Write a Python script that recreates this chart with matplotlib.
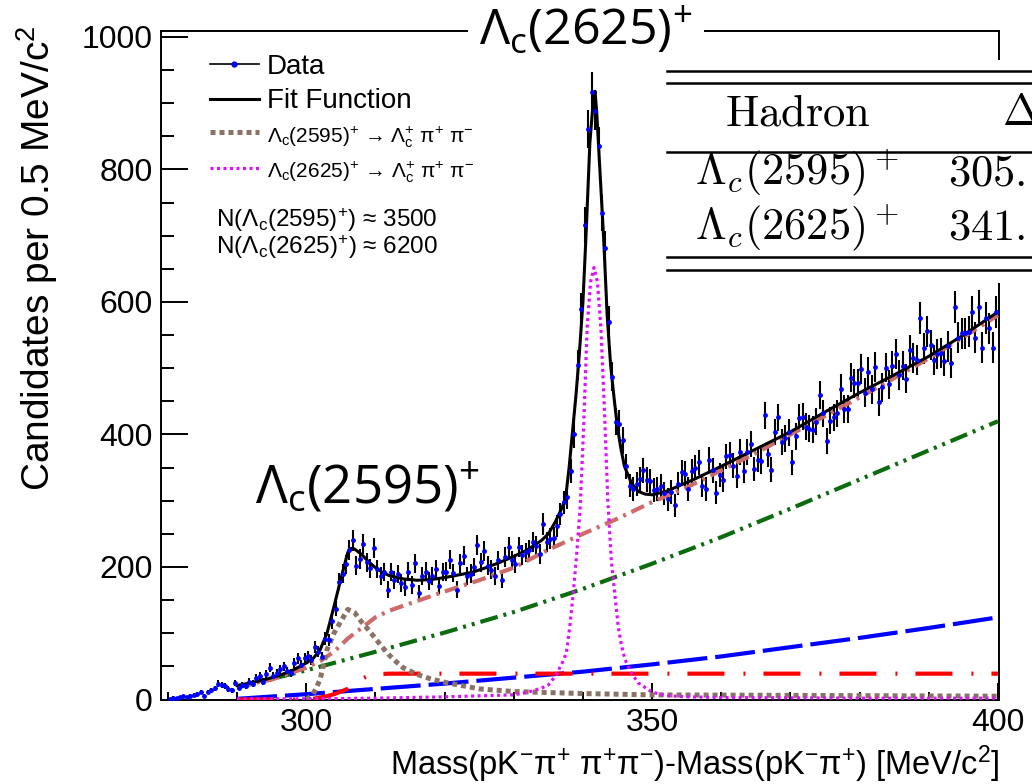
import numpy as np
import matplotlib
matplotlib.use("Agg")
import matplotlib.pyplot as plt
from matplotlib.lines import Line2D
from matplotlib.patches import Rectangle

plt.rcParams['font.family'] = ['Liberation Sans', 'DejaVu Sans']
plt.rcParams['mathtext.fontset'] = 'custom'
plt.rcParams['mathtext.rm'] = 'Liberation Sans'
plt.rcParams['mathtext.it'] = 'Liberation Sans:italic'
plt.rcParams['mathtext.bf'] = 'Liberation Sans:bold'
plt.rcParams['lines.scale_dashes'] = False

W, H, DPI = 1032, 784, 100
PT = 72 / DPI  # points per pixel

# candidates per 0.5 MeV bin, 280 - 400 MeV/c2, one row per 10 MeV
counts_280 = [1, 3, 2, 4, 5, 4, 6, 7, 9, 11, 6, 11, 14, 17, 24, 22, 21, 16, 14, 25]
counts_290 = [18, 22, 20, 27, 24, 33, 36, 27, 38, 48, 35, 40, 46, 50, 43, 40, 55, 62, 52, 62]
counts_300 = [65, 60, 79, 72, 64, 92, 90, 118, 137, 178, 190, 204, 225, 240, 202, 212, 235, 207, 198, 229]
counts_310 = [197, 186, 192, 166, 192, 180, 189, 176, 170, 193, 173, 206, 160, 186, 193, 179, 186, 197, 172, 192]
counts_320 = [193, 211, 191, 166, 206, 217, 186, 190, 200, 233, 207, 224, 202, 196, 186, 210, 181, 215, 230, 210]
counts_330 = [205, 230, 218, 222, 226, 238, 232, 220, 265, 238, 243, 244, 262, 280, 298, 305, 345, 400, 505, 590]
counts_340 = [716, 861, 917, 889, 835, 734, 681, 570, 487, 419, 416, 391, 352, 323, 318, 325, 333, 346, 332, 330]
counts_350 = [316, 318, 322, 311, 302, 313, 293, 326, 343, 341, 318, 345, 350, 358, 323, 318, 362, 346, 312, 339]
counts_360 = [332, 367, 369, 353, 338, 374, 345, 374, 385, 348, 362, 360, 429, 370, 347, 404, 426, 389, 394, 403]
counts_370 = [358, 397, 425, 427, 412, 409, 407, 419, 460, 432, 390, 421, 426, 432, 469, 439, 439, 486, 477, 477]
counts_380 = [499, 463, 494, 468, 502, 449, 471, 501, 476, 504, 522, 490, 504, 484, 527, 515, 513, 576, 530, 556]
counts_390 = [535, 513, 522, 523, 511, 533, 508, 592, 546, 553, 553, 555, 585, 546, 593, 531, 576, 560, 531, 585]
bin_lo, bin_w = 280.0, 0.5

# fit function and its components
fit_x = [290, 292, 294, 296, 298, 300, 301, 302, 303, 304, 305, 306, 306.5, 307, 308, 309, 310, 311, 312,
         314, 316, 318, 320, 322, 324, 326, 328, 330, 332, 334, 335, 336, 337, 337.5, 338, 338.5, 339,
         339.5, 340, 340.5, 341, 341.5, 341.75, 342, 342.5, 343, 343.5, 344, 344.5, 345, 345.5, 346, 347,
         348, 349, 350, 352, 354, 356, 358, 360, 365, 370, 375, 380, 385, 390, 395, 400]
fit_y = [21, 25, 30, 36, 44, 55, 62, 75, 100, 140, 182, 222, 228, 227, 219, 208, 199, 192, 187,
         182, 180, 181, 184, 188, 192, 199, 207, 216, 226, 240, 250, 268, 290, 305, 350, 405, 460,
         525, 600, 713, 840, 905, 918, 885, 790, 695, 580, 505, 455, 410, 378, 352, 327,
         314, 310, 309, 314, 323, 332, 342, 352, 378, 404, 434, 463, 490, 518, 550, 585]

bkg_x = [290, 295, 300, 302, 304, 306, 308, 310, 312, 315, 320, 325, 330, 335, 340, 345, 350, 355,
         360, 365, 370, 375, 380, 385, 390, 395, 400]
bkg_y = [20, 30, 48, 58, 72, 92, 108, 124, 134, 145, 163, 180, 199, 226, 250, 273, 298, 320,
         346, 372, 400, 428, 456, 485, 515, 547, 580]

comp_x = [290, 300, 310, 320, 330, 340, 350, 360, 370, 380, 390, 400]
green_y = [18, 44, 72, 101, 132, 167, 205, 245, 288, 332, 376, 420]
blue_y = [1, 8, 16, 24, 33, 42, 53, 65, 79, 93, 108, 124]

red_x = [290, 300, 301, 302, 303, 304, 305, 306, 307, 308, 309, 310, 312, 315, 400]
red_y = [0, 0, 1, 3, 5, 8, 12, 16, 24, 31, 36, 38, 39, 39, 39]

lc2595_x = [300, 301, 302, 303, 304, 305, 306, 307, 308, 309, 310, 311, 312, 313, 314, 316, 318,
            320, 325, 330, 340, 350, 375, 400]
lc2595_y = [0, 8, 30, 75, 100, 118, 136, 131, 117, 105, 92, 79, 67, 57, 48, 38, 31,
            26, 16, 12, 9, 7, 6, 5]

lc2625_x = [290, 300, 310, 320, 330, 332, 334, 335, 336, 337, 337.6, 338.1, 338.6, 339.1, 339.6,
            340.1, 340.6, 341.1, 341.6, 342.1, 342.6, 343.1, 343.6, 344.1, 344.6, 345.1, 345.6,
            346.1, 347, 348, 350, 352, 355, 360, 380, 400]
lc2625_y = [1, 1, 2, 4, 7, 11, 17, 22, 35, 55, 70, 110, 160, 220, 290,
            410, 560, 630, 652, 630, 560, 440, 300, 210, 160, 110, 80,
            60, 40, 25, 11, 6, 4, 3, 2, 2]


def fx(px):
    return px / W


def fy(py):
    return 1 - py / H


def dash(*px):
    return (0, tuple(p * PT for p in px))


counts = np.array(counts_280 + counts_290 + counts_300 + counts_310 + counts_320 + counts_330
                  + counts_340 + counts_350 + counts_360 + counts_370 + counts_380 + counts_390, float)
centers = bin_lo + bin_w * (np.arange(len(counts)) + 0.5)

fig = plt.figure(figsize=(W / DPI, H / DPI), dpi=DPI)
ax = fig.add_axes([fx(161), fy(699.5), (999 - 161) / W, (699.5 - 31) / H])

# data
ax.errorbar(centers, counts, yerr=np.sqrt(counts), fmt='none', ecolor='black', elinewidth=1.5, zorder=2)
ax.plot(centers, counts, 'o', color='#0000ff', ms=3.5, mew=0, zorder=6)

# components
brown = '#8b7264'
magenta = '#dd11ff'
ax.plot(comp_x, blue_y, color='#0000ff', lw=3.0, ls=dash(40, 8), zorder=3)
ax.plot(red_x, red_y, color='#ff0000', lw=3.0, ls=dash(37, 19, 2, 18), zorder=3)
ax.plot(comp_x, green_y, color='#0c6b0c', lw=3.0, ls=dash(18, 6, 3, 6, 3, 6), zorder=3)
ax.plot(bkg_x, bkg_y, color='#cd6b6b', lw=3.0, ls=dash(14, 6, 3, 6), zorder=3)
ax.plot(lc2595_x, lc2595_y, color=brown, lw=3.6, ls=dash(5, 4), zorder=3)
ax.plot(lc2625_x, lc2625_y, color=magenta, lw=2.3, ls=dash(3, 3.5), zorder=3)
ax.plot(fit_x, fit_y, color='black', lw=2.2, zorder=4)

ax.set_xlim(279.0, 400.15)
ax.set_ylim(0, 1009)
ax.set_xticks([300, 350, 400])
ax.set_xticks(np.arange(280, 401, 10), minor=True)
ax.set_yticks(np.arange(0, 1001, 200))
ax.set_yticks(np.arange(0, 1001, 50), minor=True)
ax.tick_params(axis='both', which='both', direction='in', width=1.4, labelsize=23,
               top=False, right=False)
ax.tick_params(axis='x', which='major', length=12.5, pad=6)
ax.tick_params(axis='x', which='minor', length=6)
ax.tick_params(axis='y', which='major', length=19.5, pad=6)
ax.tick_params(axis='y', which='minor', length=9.4)
for s in ax.spines.values():
    s.set_linewidth(1.4)

# legend
handles = [
    Line2D([], [], color='black', lw=1.2, marker='o', mfc='#0000ff', mec='#0000ff', ms=3.5),
    Line2D([], [], color='black', lw=2.2),
    Line2D([], [], color=brown, lw=3.6, ls=dash(5, 4)),
    Line2D([], [], color=magenta, lw=2.3, ls=dash(3, 3.5)),
]
labels = [
    'Data',
    'Fit Function',
    'Λ$_\\mathregular{c}$(2595)$^\\mathregular{+}$ → Λ$_\\mathregular{c}^\\mathregular{+}$ π$^\\mathregular{+}$ π$^\\mathregular{-}$',
    'Λ$_\\mathregular{c}$(2625)$^\\mathregular{+}$ → Λ$_\\mathregular{c}^\\mathregular{+}$ π$^\\mathregular{+}$ π$^\\mathregular{-}$',
]
leg = ax.legend(handles, labels, loc='upper left', bbox_to_anchor=((210 - 161) / 838, 1 - (54 - 31) / 668.5),
                frameon=False, fontsize=20, handlelength=1.75, handletextpad=0.3, labelspacing=0.3,
                borderpad=0, borderaxespad=0)
for t in leg.get_texts()[2:]:
    t.set_fontsize(15)

ax.text((216 - 161) / 838, 1 - (220 - 31) / 668.5,
        'N(Λ$_\\mathregular{c}$(2595)$^\\mathregular{+}$) ≈ 3500', transform=ax.transAxes,
        fontsize=17.5, ha='left', va='center')
ax.text((216 - 161) / 838, 1 - (247 - 31) / 668.5,
        'N(Λ$_\\mathregular{c}$(2625)$^\\mathregular{+}$) ≈ 6200', transform=ax.transAxes,
        fontsize=17.5, ha='left', va='center')

# axis titles
fig.text(fx(37), fy(25), 'Candidates per 0.5 MeV/c$^\\mathregular{2}$', rotation=90,
         ha='center', va='top', fontsize=28)
fig.text(fx(1000), fy(764),
         'Mass(pK$^\\mathregular{-}$π$^\\mathregular{+}$ π$^\\mathregular{+}$π$^\\mathregular{-}$)'
         '-Mass(pK$^\\mathregular{-}$π$^\\mathregular{+}$) [MeV/c$^\\mathregular{2}$]',
         ha='right', va='center', fontsize=23.5)

# peak labels
fig.text(fx(586), fy(31), 'Λ$_\\mathregular{c}$(2625)$^\\mathregular{+}$', family='Open Sans',
         fontsize=36, ha='center', va='center', zorder=8,
         bbox=dict(fc='white', ec='none', pad=8))
fig.text(fx(367), fy(489), 'Λ$_\\mathregular{c}$(2595)$^\\mathregular{+}$', family='Open Sans',
         fontsize=38, ha='center', va='center')

# table inset on the right
fig.add_artist(Rectangle((fx(655), fy(283)), (W - 655) / W, (283 - 60) / H,
                         transform=fig.transFigure, fc='white', ec='none', zorder=5))
for yy in [71, 83, 152, 257, 270]:
    fig.add_artist(Line2D([fx(667), 1], [fy(yy), fy(yy)], transform=fig.transFigure,
                          color='black', lw=1.8, zorder=6))
cm = dict(math_fontfamily='cm', fontsize=32, va='baseline', ha='left', zorder=7)
fig.text(fx(725), fy(125), r'$\mathrm{Hadron}$', **cm)
fig.text(fx(1002), fy(125), r'$\Delta$', **cm)
fig.text(fx(695), fy(185), r'$\Lambda_c(2595)^+$', **cm)
fig.text(fx(948), fy(185), r'$\mathrm{305.}$', **cm)
fig.text(fx(695), fy(240), r'$\Lambda_c(2625)^+$', **cm)
fig.text(fx(948), fy(240), r'$\mathrm{341.}$', **cm)

fig.savefig('out.png', dpi=DPI)
